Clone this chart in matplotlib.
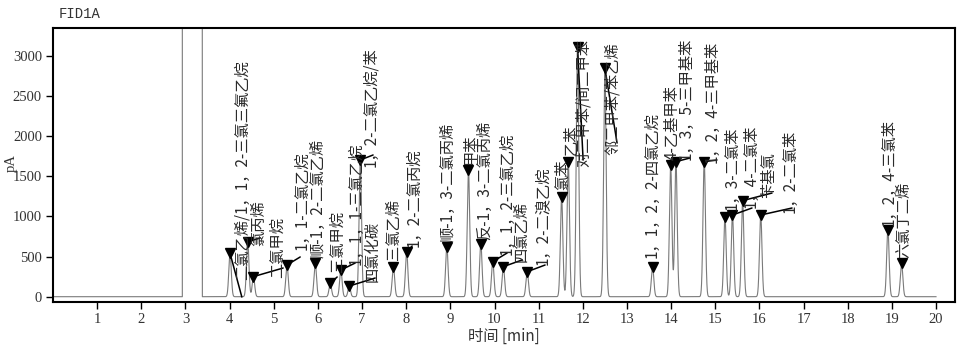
import numpy as np
import matplotlib
matplotlib.use("Agg")
import matplotlib.pyplot as plt

# ---- chromatogram data -------------------------------------------------
retention_times = [4.01, 4.41, 4.54, 5.30, 5.94, 6.28, 6.52, 6.71, 6.96, 7.71,
                   8.01, 8.92, 9.41, 9.69, 9.96, 10.20, 10.74, 11.52, 11.67,
                   11.88, 12.50, 13.58, 13.99, 14.11, 14.75, 15.22, 15.39,
                   15.62, 16.03, 18.91, 19.22]
peak_heights = [540, 685, 250, 395, 415, 167, 332, 133, 1702, 374,
                560, 623, 1578, 656, 436, 374, 311, 1245, 1681,
                3113, 2844, 374, 1640, 1681, 1681, 989, 1017,
                1196, 1017, 830, 415]
compound_names = [
    "二氯乙烯/1，1，2-三氯三氟乙烷", "氯丙烯", "二氯甲烷", "1，1-二氯乙烷",
    "顺-1，2-二氯乙烯", "三氯甲烷", "1，1，1-三氯乙烷", "四氯化碳",
    "1，2-二氯乙烷/苯", "三氯乙烯", "1，2-二氯丙烷", "顺-1，3-二氯丙烯",
    "甲苯", "反-1，3-二氯丙烯", "1，1，2-三氯乙烷", "四氯乙烯",
    "1，2-二溴乙烷", "氯苯", "乙苯", "对二甲苯/间二甲苯", "邻二甲苯/苯乙烯",
    "1，1，2，2-四氯乙烷", "4-乙基甲苯", "1，3，5-三甲基苯",
    "1，2，4-三甲基苯", "1，3-二氯苯", "1，4-二氯苯", "苄基氯",
    "1，2-二氯苯", "1，2，4-三氯苯", "六氯丁二烯",
]
solvent_window = (2.93, 3.38)   # off-scale solvent response (min)
run_end = 20.0
x_ticks = list(range(1, 21))
y_ticks = [0, 500, 1000, 1500, 2000, 2500, 3000]

# ---- label layout (pixel offsets from each peak marker) ------------------
label_offsets = [(11.6, -26.7), (10.5, -4.3), (23.7, -1.4), (15.2, 15.0),
                 (2.9, 5.4), (6.9, 11.3), (15.3, 5.0), (22.9, 4.0),
                 (10.8, -7.0), (-0.3, 6.7), (7.5, 4.7), (1.3, 4.7),
                 (1.7, 5.0), (4.3, 4.0), (14.4, 6.7), (17.8, 4.7),
                 (15.9, 6.7), (1.5, 6.7), (2.8, 6.7), (5.6, -120.4),
                 (7.2, -86.8), (-0.5, 8.7), (1.4, 5.0), (10.1, 1.7),
                 (7.8, -1.3), (7.1, 7.3), (18.5, 7.0), (26.4, 2.6),
                 (29.3, 2.0), (1.1, 4.0), (2.5, 5.4)]
leader_ends = [(11.8, -43.7), (12.5, 3.7), (29.7, 8.6), (13.2, 8.0),
               None, (6.9, 6.3), (14.3, 7.0), (25.9, 8.0),
               (12.8, 5.0), None, (5.5, 5.7), None,
               None, None, (14.4, 8.7), (18.8, 6.7),
               (17.9, 6.7), None, None, (5.6, -113.4),
               (12.2, -74.8), None, None, (14.1, 3.7),
               (12.8, 1.7), None, (19.5, 7.0), (29.4, 7.6),
               (31.3, 7.0), None, None]

W, H = 966, 347
fig = plt.figure(figsize=(W / 100, H / 100), dpi=100)
ax = fig.add_axes([53 / W, 1 - 302 / H, (955 - 53) / W, (302 - 28) / H])

# ---- detector trace built from the peak table ---------------------------
sigma = 0.028
t = np.arange(0.0, run_end + 0.0005, 0.001)
signal = np.zeros_like(t)
for rt, h in zip(retention_times, peak_heights):
    signal += h * np.exp(-0.5 * ((t - rt) / sigma) ** 2)
in_solvent = (t >= solvent_window[0]) & (t <= solvent_window[1])
signal[in_solvent] = 1.0e5

ax.plot(t, signal, color="#7a7a7a", lw=0.8, zorder=2)

# ---- peak markers, leaders and compound labels --------------------------
ax.plot(retention_times, peak_heights, linestyle="none", marker="v",
        markersize=7.5, color="black", zorder=4)

cjk = ["Noto Sans CJK SC", "DejaVu Sans"]
for i, (rt, h, name) in enumerate(zip(retention_times, peak_heights,
                                      compound_names)):
    if leader_ends[i] is not None:
        ax.annotate("", xy=(rt, h), xytext=leader_ends[i],
                    textcoords="offset pixels", annotation_clip=False,
                    arrowprops=dict(arrowstyle="-", color="black", lw=1.1,
                                    shrinkA=0, shrinkB=0), zorder=3)
    txt = ax.annotate(name, xy=(rt, h), xytext=label_offsets[i],
                      textcoords="offset pixels", rotation=90,
                      ha="center", va="bottom", fontsize=11,
                      family=cjk, color="#2a2a2a", annotation_clip=False,
                      zorder=5)
    txt.set_clip_box(ax.bbox)
    txt.set_clip_on(True)

# ---- axes styling -------------------------------------------------------
ax.set_xlim(0, 20.43)
ax.set_ylim(-66, 3345)
ax.set_xticks(x_ticks)
ax.set_xticklabels([str(v) for v in x_ticks])
ax.set_yticks(y_ticks)
ax.set_yticklabels([str(v) for v in y_ticks])
for sp in ax.spines.values():
    sp.set_linewidth(1.5)
    sp.set_color("black")
ax.tick_params(direction="out", length=5, width=1.0, pad=3,
               labelsize=10.5, colors="black")
for lab in ax.get_xticklabels() + ax.get_yticklabels():
    lab.set_family("Liberation Serif")
    lab.set_color("#333333")

ax.set_xlabel("时间 [min]", family=cjk, fontsize=11, color="#333333",
              labelpad=1)
fig.text(11 / W, 1 - 163 / H, "pA", rotation=90, ha="center", va="center",
         family="Liberation Serif", fontsize=10.5, color="#333333")
fig.text(59 / W, 1 - 18 / H, "FID1A", ha="left", va="baseline",
         family="Liberation Mono", fontsize=10, color="#333333")

fig.savefig("out.png", dpi=100)
